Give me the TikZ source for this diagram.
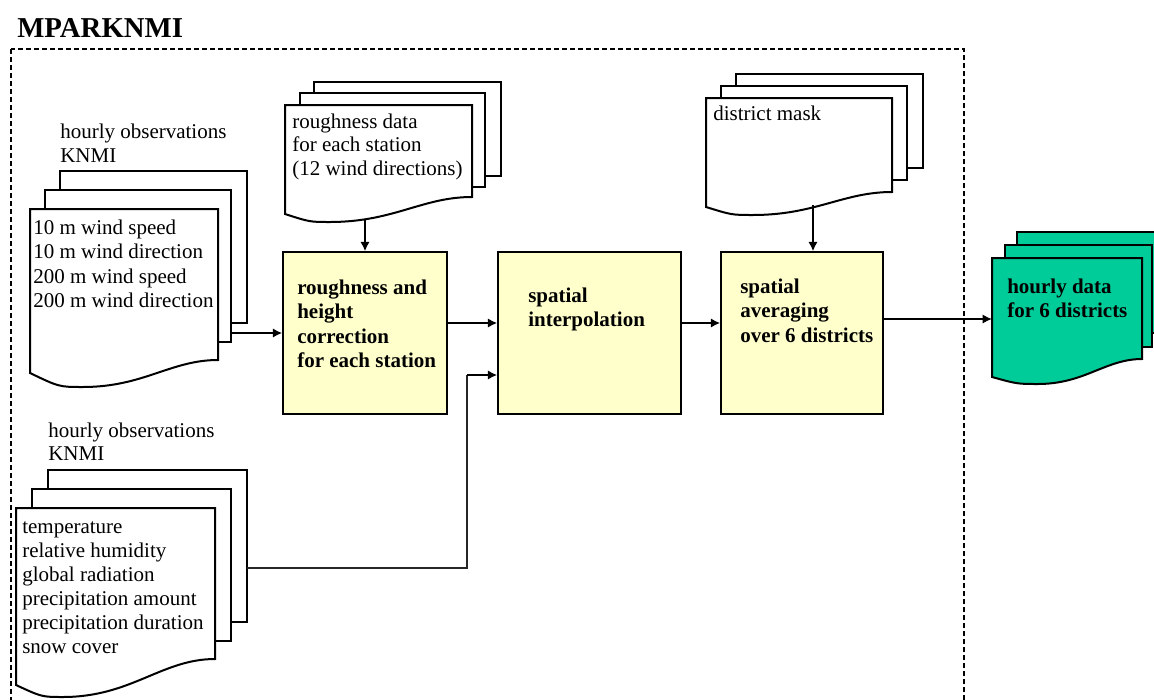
\documentclass[tikz,border=0pt]{standalone}
\usepackage{fontspec}
\setmainfont{Liberation Serif}
\usetikzlibrary{arrows.meta,calc}
\definecolor{boxyellow}{HTML}{FFFFCC}
\definecolor{docgreen}{HTML}{00CC99}
\newcommand\firstln{\rule{0pt}{0.7em}}
\newcommand\docfront[8]{%
  \pgfmathsetmacro\docxa{#3-0.35*(#3-#6)}%
  \pgfmathsetmacro\docxb{#6+0.45*(#3-#6)}%
  \pgfmathsetmacro\docxc{#6-0.45*(#6-#1)}%
  \filldraw[docline,fill=#8] (#1,#2) -- (#3,#2) -- (#3,#4)
    .. controls (\docxa,#4) and (\docxb,#7) .. (#6,#7)
    .. controls (\docxc,#7) .. (#1,#5) -- cycle;}
\newcommand\docsheet[5]{\filldraw[docline,fill=#5] (#1,#2) rectangle (#3,#4);}
\tikzset{
  docline/.style={line width=1.5pt, draw=black},
  procbox/.style={draw=black, fill=boxyellow, line width=1.1pt, inner sep=0pt},
  txt/.style={inner sep=0pt, anchor=north west, align=left,
    font=\fontsize{15.75}{18.3}\selectfont},
  btxt/.style={txt, font=\fontsize{15.75}{18.3}\selectfont\bfseries},
  arr/.style={line width=2pt, -{Latex[length=7pt,width=7pt]}},
  thinline/.style={line width=1pt, draw=black!85},
  frame/.style={line width=1.6pt, dash pattern=on 3.75pt off 2.25pt}
}
\begin{document}
\begin{tikzpicture}[x=0.75pt,y=-0.75pt]
\useasboundingbox (0,0) rectangle (1154,700);
\clip (0,0) rectangle (1154,700);

% title and frame
\node[inner sep=0pt, anchor=base west, font=\fontsize{21.6}{26}\selectfont\bfseries] (title) at (17,37) {MPARKNMI};
\draw[frame] (11,49) rectangle (964,730);

% document stack 1 (wind)
\docsheet{60}{171}{247}{323}{white}
\docsheet{45}{190}{231}{342}{white}
\docfront{30}{209}{218}{360}{373}{83}{387}{white}
\node[txt] (d1head) at (60,123.3) {\firstln hourly observations\\KNMI};
\node[txt] (d1text) at (33,219.3) {\firstln 10 m wind speed\\10 m wind direction\\200 m wind speed\\200 m wind direction};

% document stack roughness
\docsheet{314}{82}{501}{176}{white}
\docsheet{300}{93}{485}{187}{white}
\docfront{285}{105}{472}{197}{214}{330}{222}{white}
\node[txt, font=\fontsize{15.75}{17.6}\selectfont] (rtext) at (292,113.3) {\firstln roughness data\\for each station\\(12 wind directions)};

% document stack district mask
\docsheet{736}{74}{923}{168}{white}
\docsheet{721}{86}{907}{180}{white}
\docfront{706}{98}{892}{192}{207}{753}{215}{white}
\node[txt] (mtext) at (713,105.3) {\firstln district mask};

% output document stack
\docsheet{1017}{232}{1170}{333}{docgreen}
\docsheet{1005}{245}{1152}{347}{docgreen}
\docfront{992}{258}{1142}{359}{377}{1038}{384}{docgreen}
\node[btxt] (gtext) at (1007,278.3) {\firstln hourly data\\for 6 districts};

% document stack 2 (other observations)
\docsheet{48}{470}{247}{622}{white}
\docsheet{32}{489}{231}{641}{white}
\docfront{16}{508}{215}{659}{685}{63}{697}{white}
\node[txt, font=\fontsize{15.75}{17.3}\selectfont] (d2head) at (48,422.3) {\firstln hourly observations\\KNMI};
\node[txt, font=\fontsize{15.75}{18.1}\selectfont] (d2text) at (22,518.3) {\firstln temperature\\relative humidity\\global radiation\\precipitation amount\\precipitation duration\\snow cover};

% process boxes
\node[procbox, minimum width=123pt, minimum height=121.5pt] (b1) at (365,333) {};
\node[procbox, minimum width=137.25pt, minimum height=121.5pt] (b2) at (589.5,333) {};
\node[procbox, minimum width=121.5pt, minimum height=121.5pt] (b3) at (802,333) {};
\node[btxt] (b1text) at (297,279.3) {\firstln roughness and\\height\\correction\\for each station};
\node[btxt] (b2text) at (528,287.3) {\firstln spatial\\interpolation};
\node[btxt] (b3text) at (740,278.3) {\firstln spatial\\averaging\\over 6 districts};

% connectors
\coordinate (d1out) at (231,333);
\draw[arr] (d1out) -- (b1.west);
\coordinate (r1out) at (365,219);
\draw[arr] (r1out) -- (b1.north);
\draw[arr] ($(b1.east)+(0,-10)$) -- ($(b2.west)+(0,-10)$);
\draw[arr] ($(b2.east)+(0,-10)$) -- ($(b3.west)+(0,-10)$);
\coordinate (m1out) at (813,205);
\draw[arr] (m1out) -- (m1out |- b3.north);
\coordinate (g1in) at (992,319);
\draw[arr] (b3.east |- g1in) -- (g1in);
\coordinate (d2out) at (247,568);
\coordinate (j1) at (467,375);
\draw[thinline] (d2out) -| (j1);
\draw[arr] (j1) -- (j1 -| b2.west);
\end{tikzpicture}
\end{document}
